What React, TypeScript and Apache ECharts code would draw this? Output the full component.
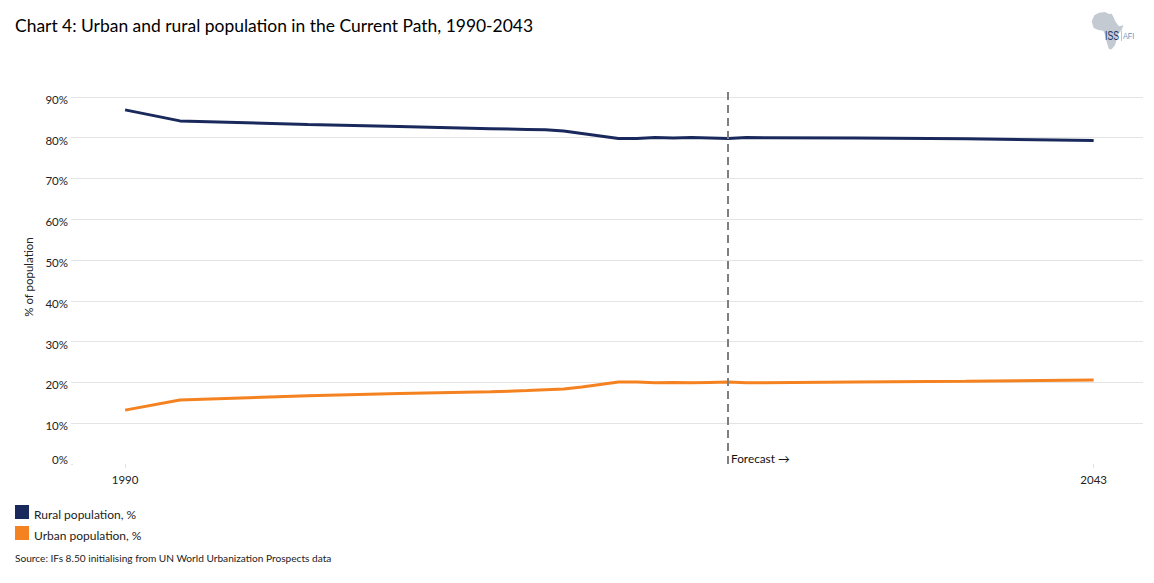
import React, { useEffect, useRef } from "react";
import * as echarts from "echarts";

const years = [1990, 1993, 2000, 2005, 2010, 2012, 2013, 2014, 2015, 2016, 2017, 2018, 2019, 2020, 2021, 2022, 2023, 2024, 2030, 2036, 2043];
const rural = [86.8, 84.1, 83.2, 82.7, 82.2, 82.0, 81.9, 81.6, 81.0, 80.4, 79.8, 79.8, 80.0, 79.9, 80.0, 79.9, 79.8, 80.0, 79.9, 79.7, 79.3];
const urban = [13.2, 15.7, 16.7, 17.3, 17.7, 18.0, 18.2, 18.4, 18.9, 19.5, 20.1, 20.1, 19.9, 20.0, 19.9, 20.0, 20.1, 19.9, 20.1, 20.3, 20.6];
const yTicks = [0, 10, 20, 30, 40, 50, 60, 70, 80, 90];
const xLabels = [1990, 2043];
const forecastYear = 2023;
const FONT = "Lato, 'Open Sans', sans-serif";

const africa = "M20 40 L28 22 L42 14 L60 12 L72 18 L80 17 L86 28 L92 42 L102 55 L116 52 L110 66 L100 78 L96 92 L90 112 L80 124 L72 124 L66 105 L60 80 L55 68 L40 66 L26 60 Z";
echarts.graphic.registerShape("africaLogo", (echarts.graphic as any).extendPath(africa, {}));

function pts(a: number[]) {
  return years.map((y, i) => [y, a[i]]);
}

export default function App() {
  const ref = useRef<HTMLDivElement>(null);
  useEffect(() => {
    const chart = echarts.init(ref.current!, undefined, { renderer: "svg" });
    chart.setOption({
      animation: false,
      backgroundColor: "#ffffff",
      textStyle: { fontFamily: FONT },
      title: {
        text: "Chart 4: Urban and rural population in the Current Path, 1990-2043",
        left: 15,
        top: 17,
        padding: 0,
        textStyle: { fontFamily: FONT, fontSize: 17.45, fontWeight: "normal", color: "#000" },
      },
      legend: {
        orient: "vertical",
        left: 15,
        top: 505,
        padding: 0,
        itemWidth: 14,
        itemHeight: 14,
        itemGap: 6,
        icon: "rect",
        formatter: "{a|{name}}",
        textStyle: {
          rich: { a: { fontFamily: FONT, fontSize: 12, color: "#222", padding: [4, 0, 0, 0] } },
        },
      },
      grid: { left: 73, right: 11, top: 90, bottom: 119 },
      xAxis: {
        type: "value",
        min: 1987.15,
        max: 2045.7,
        splitLine: { show: false },
        axisLine: { show: false },
        axisTick: { show: true, customValues: xLabels, length: 4, lineStyle: { color: "#e4e4e4" } },
        axisLabel: {
          customValues: xLabels,
          formatter: (v: number) => String(v),
          fontFamily: FONT,
          fontSize: 11.5,
          color: "#222",
          margin: 9,
        },
      },
      yAxis: {
        type: "value",
        min: 0,
        max: 91.67,
        name: "% of population",
        nameLocation: "middle",
        nameGap: 39,
        nameRotate: 90,
        nameTextStyle: { fontFamily: FONT, fontSize: 11.5, color: "#222" },
        axisLine: { show: false },
        axisTick: { show: true, customValues: yTicks, length: 2, lineStyle: { color: "#e4e4e4" } },
        splitLine: { show: true, showMinLine: false, lineStyle: { color: "#e4e4e4", width: 1 } },
        axisLabel: {
          customValues: yTicks,
          formatter: (v: number) => (v === 0 ? `{z|${v}%}` : `{n|${v}%}`),
          margin: 5,
          rich: {
            n: { fontFamily: FONT, fontSize: 11.5, color: "#222", padding: [5, 0, 0, 0] },
            z: { fontFamily: FONT, fontSize: 11.5, color: "#222", padding: [0, 0, 10, 0] },
          },
        },
      },
      series: [
        {
          name: "Rural population, %",
          type: "line",
          data: pts(rural),
          showSymbol: false,
          smooth: false,
          lineStyle: { color: "#19295c", width: 3 },
          itemStyle: { color: "#19295c" },
          markLine: {
            silent: true,
            symbol: "none",
            label: { show: false },
            lineStyle: { color: "#7f7f7f", type: [8, 5], width: 2 },
            data: [{ xAxis: forecastYear }],
          },
        },
        {
          name: "Urban population, %",
          type: "line",
          data: pts(urban),
          showSymbol: false,
          smooth: false,
          lineStyle: { color: "#f58220", width: 3 },
          itemStyle: { color: "#f58220" },
        },
      ],
      graphic: [
        { type: "text", left: 731, top: 452, style: { text: "Forecast →", fontFamily: FONT, fontSize: 11.8, fill: "#111" } },
        { type: "text", left: 15, top: 553, style: { text: "Source: IFs 8.50 initialising from UN World Urbanization Prospects data", fontFamily: FONT, fontSize: 10.15, fill: "#222" } },
        { type: "africaLogo", x: 1085, y: 8, scaleX: 1 / 3, scaleY: 1 / 3, style: { fill: "#c3cad2" } },
        { type: "text", x: 1105, y: 30, scaleX: 0.72, style: { text: "ISS", fontFamily: "'Liberation Sans'", fontSize: 12, fill: "#1d3260" } },
        { type: "line", shape: { x1: 1121.5, y1: 31, x2: 1121.5, y2: 41 }, style: { stroke: "#8fb3d0", lineWidth: 0.7 } },
        { type: "text", x: 1123, y: 32, scaleX: 0.8, style: { text: "AFI", fontFamily: "'Liberation Sans'", fontSize: 9, fill: "#5b93bd" } },
      ],
    });
    return () => chart.dispose();
  }, []);
  return <div ref={ref} style={{ position: "absolute", left: 0, top: 0, width: 1154, height: 583 }} />;
}
